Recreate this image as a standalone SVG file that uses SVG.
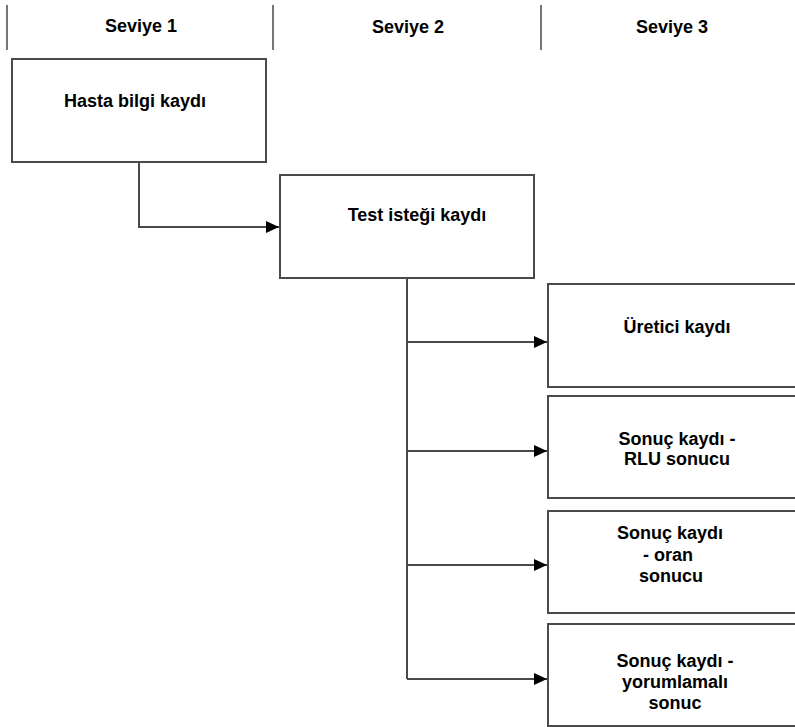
<svg xmlns="http://www.w3.org/2000/svg" width="795" height="727" viewBox="0 0 795 727">
  <defs>
    <marker id="arrow" markerUnits="userSpaceOnUse" markerWidth="14" markerHeight="14" viewBox="0 0 14 14" refX="13" refY="7" orient="auto">
      <path d="M0,1 L13,7 L0,13 Z" fill="#000"/>
    </marker>
    <style>
      .box { fill: #fff; stroke: #4a4a4a; stroke-width: 2; }
      .lbl { font-family: "Liberation Sans", Arial, sans-serif; font-weight: bold; font-size: 18px; fill: #000; text-anchor: middle; }
      .hdr { font-family: "Liberation Sans", Arial, sans-serif; font-weight: bold; font-size: 18px; fill: #000; text-anchor: middle; }
      .sep { stroke: #777; stroke-width: 2; }
      .link { fill: none; stroke: #4a4a4a; stroke-width: 2; }
    </style>
  </defs>
  <rect width="795" height="727" fill="#fff"/>

  <!-- column headers -->
  <g id="headers">
    <line class="sep" x1="7" y1="5" x2="7" y2="50"/>
    <line class="sep" x1="273" y1="5" x2="273" y2="50"/>
    <line class="sep" x1="541" y1="5" x2="541" y2="50"/>
    <text class="hdr" x="141" y="32">Seviye 1</text>
    <text class="hdr" x="408" y="33">Seviye 2</text>
    <text class="hdr" x="672" y="33">Seviye 3</text>
  </g>

  <!-- connectors -->
  <g id="connectors">
    <path class="link" d="M139,162 V227 H279" marker-end="url(#arrow)"/>
    <path class="link" d="M407,278 V679"/>
    <path class="link" d="M407,342 H547" marker-end="url(#arrow)"/>
    <path class="link" d="M407,451 H547" marker-end="url(#arrow)"/>
    <path class="link" d="M407,565 H547" marker-end="url(#arrow)"/>
    <path class="link" d="M407,679 H547" marker-end="url(#arrow)"/>
  </g>

  <g id="hasta">
    <rect class="box" x="12" y="59" width="254" height="103"/>
    <text class="lbl" x="135" y="107">Hasta bilgi kaydı</text>
  </g>

  <g id="test">
    <rect class="box" x="280" y="175" width="254" height="103"/>
    <text class="lbl" x="417" y="221">Test isteği kaydı</text>
  </g>

  <g id="uretici">
    <rect class="box" x="548" y="284" width="260" height="103"/>
    <text class="lbl" x="677" y="333">Üretici kaydı</text>
  </g>

  <g id="sonuc-rlu">
    <rect class="box" x="548" y="396" width="260" height="102"/>
    <text class="lbl" x="677" y="445">Sonuç kaydı -</text>
    <text class="lbl" x="677" y="465">RLU sonucu</text>
  </g>

  <g id="sonuc-oran">
    <rect class="box" x="548" y="511" width="260" height="102"/>
    <text class="lbl" x="670" y="539">Sonuç kaydı</text>
    <text class="lbl" x="668" y="561">- oran</text>
    <text class="lbl" x="671" y="582">sonucu</text>
  </g>

  <g id="sonuc-yorum">
    <rect class="box" x="548" y="624" width="260" height="102"/>
    <text class="lbl" x="675" y="667">Sonuç kaydı -</text>
    <text class="lbl" x="675" y="688">yorumlamalı</text>
    <text class="lbl" x="675" y="709">sonuc</text>
  </g>
</svg>
